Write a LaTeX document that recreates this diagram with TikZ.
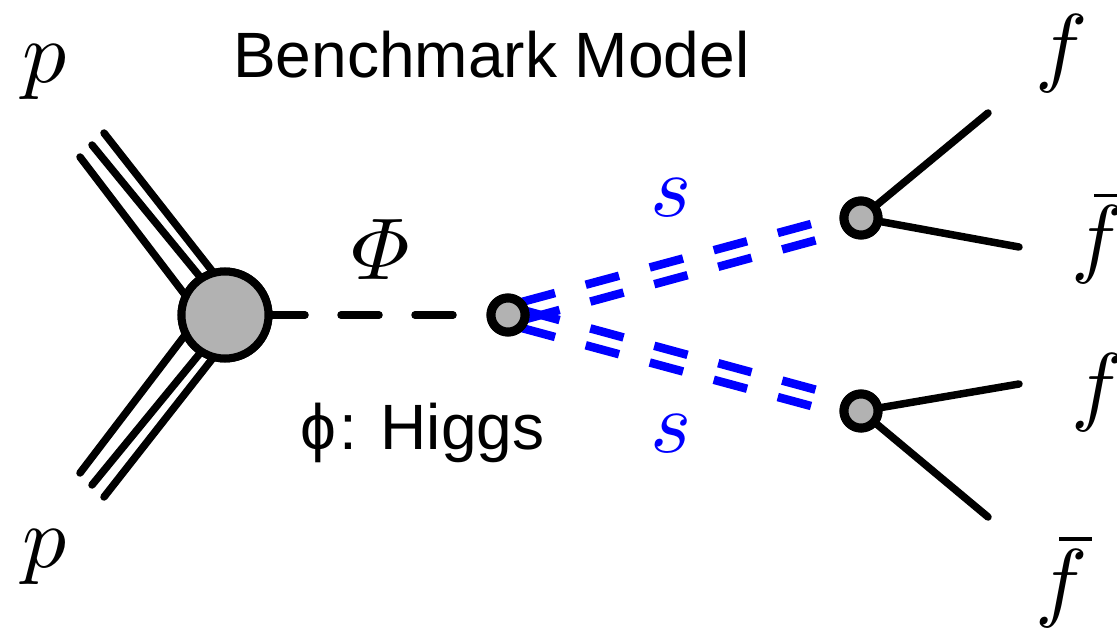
\documentclass[tikz,border=0pt]{standalone}
\usepackage{amsmath}
\usepackage{graphicx}
\usepackage{fontspec}
\setmainfont{Liberation Sans}
\definecolor{blobgray}{gray}{0.7}
\definecolor{sblue}{RGB}{0,0,255}
\newcommand{\bigmath}[1]{\scalebox{8.8}{$#1$}}
\tikzset{
  line/.style={line width=7.5bp,line cap=round},
  blob/.style={circle,draw=black,fill=blobgray,line width=8bp,inner sep=0pt,minimum size=#1},
  smallblob/.style={circle,draw=black,fill=blobgray,line width=9bp,inner sep=0pt,minimum size=34bp},
  sdash/.style={sblue,line width=8.5bp,dash pattern=on 34.5bp off 31.8bp},
  lab/.style={inner sep=0pt,anchor=base west},
  fbar/.style={line width=3.2bp},
  txt/.style={lab,font=\fontsize{64.3}{64.3}\selectfont},
}
\begin{document}
\begin{tikzpicture}[x=1bp,y=-1bp]
\useasboundingbox (0,0) rectangle (1117,628);
\coordinate (c) at (225,315);
\coordinate (t1) at (80,157);
\coordinate (t2) at (92,145);
\coordinate (t3) at (104,133);
\coordinate (b1) at (80,473);
\coordinate (b2) at (92,485);
\coordinate (b3) at (104,497);
\coordinate (t1e) at (195,308);
\coordinate (t2e) at (210,289);
\coordinate (t3e) at (220,281);
\coordinate (b1e) at (195,322);
\coordinate (b2e) at (210,341);
\coordinate (b3e) at (220,349);
\coordinate (ua) at (521.7,302);
\coordinate (uae) at (811,224);
\coordinate (ub) at (526.3,319);
\coordinate (ube) at (815.7,240.3);
\coordinate (la) at (521.7,328);
\coordinate (lae) at (811,406);
\coordinate (lb) at (526.3,311);
\coordinate (lbe) at (815.7,389.7);
\coordinate (f1) at (988,113);
\coordinate (f2) at (1019,247);
\coordinate (f3) at (1019,384);
\coordinate (f4) at (988,517);
\coordinate (bar2a) at (1094,195.5);
\coordinate (bar2b) at (1127,195.5);
\coordinate (bar4a) at (1059,539);
\coordinate (bar4b) at (1092,539);
\draw[line] (t1) -- (t1e);
\draw[line] (t2) -- (t2e);
\draw[line] (t3) -- (t3e);
\draw[line] (b1) -- (b1e);
\draw[line] (b2) -- (b2e);
\draw[line] (b3) -- (b3e);
\draw[sdash] (ua) -- (uae);
\draw[sdash] (ub) -- (ube);
\draw[sdash] (la) -- (lae);
\draw[sdash] (lb) -- (lbe);
\node[blob=87bp] (big) at (c) {};
\node[smallblob] (mid) at (508,315) {};
\node[smallblob] (up) at (861,218) {};
\node[smallblob] (low) at (861,411) {};
\draw[line,dash pattern=on 38bp off 36bp,dash phase=5.5bp] (big.east) -- (mid.west);
\draw[line] (up) -- (f1);
\draw[line] (up) -- (f2);
\draw[line] (low) -- (f3);
\draw[line] (low) -- (f4);
\node[blob=87bp] at (c) {};
\node[smallblob] at (508,315) {};
\node[smallblob] at (861,218) {};
\node[smallblob] at (861,411) {};
\node[lab] (p1) at (22,83) {\bigmath{p}};
\node[lab] (p2) at (22,567) {\bigmath{p}};
\node[lab] (phi) at (351,280) {\bigmath{\varPhi}};
\node[lab,sblue] (s1) at (650.5,217) {\bigmath{s}};
\node[lab,sblue] (s2) at (650.5,452) {\bigmath{s}};
\node[lab] (f1l) at (1035,76) {\bigmath{f}};
\node[lab] (f2l) at (1071,267) {\bigmath{f}};
\node[lab] (f3l) at (1071,414) {\bigmath{f}};
\node[lab] (f4l) at (1035,610) {\bigmath{f}};
\draw[fbar] (bar2a) -- (bar2b);
\draw[fbar] (bar4a) -- (bar4b);
\node[txt] (title) at (233,78) {Benchmark Model};
\node[txt] (higgs) at (300,449) {ϕ\kern3pt: Higgs};
\end{tikzpicture}
\end{document}
